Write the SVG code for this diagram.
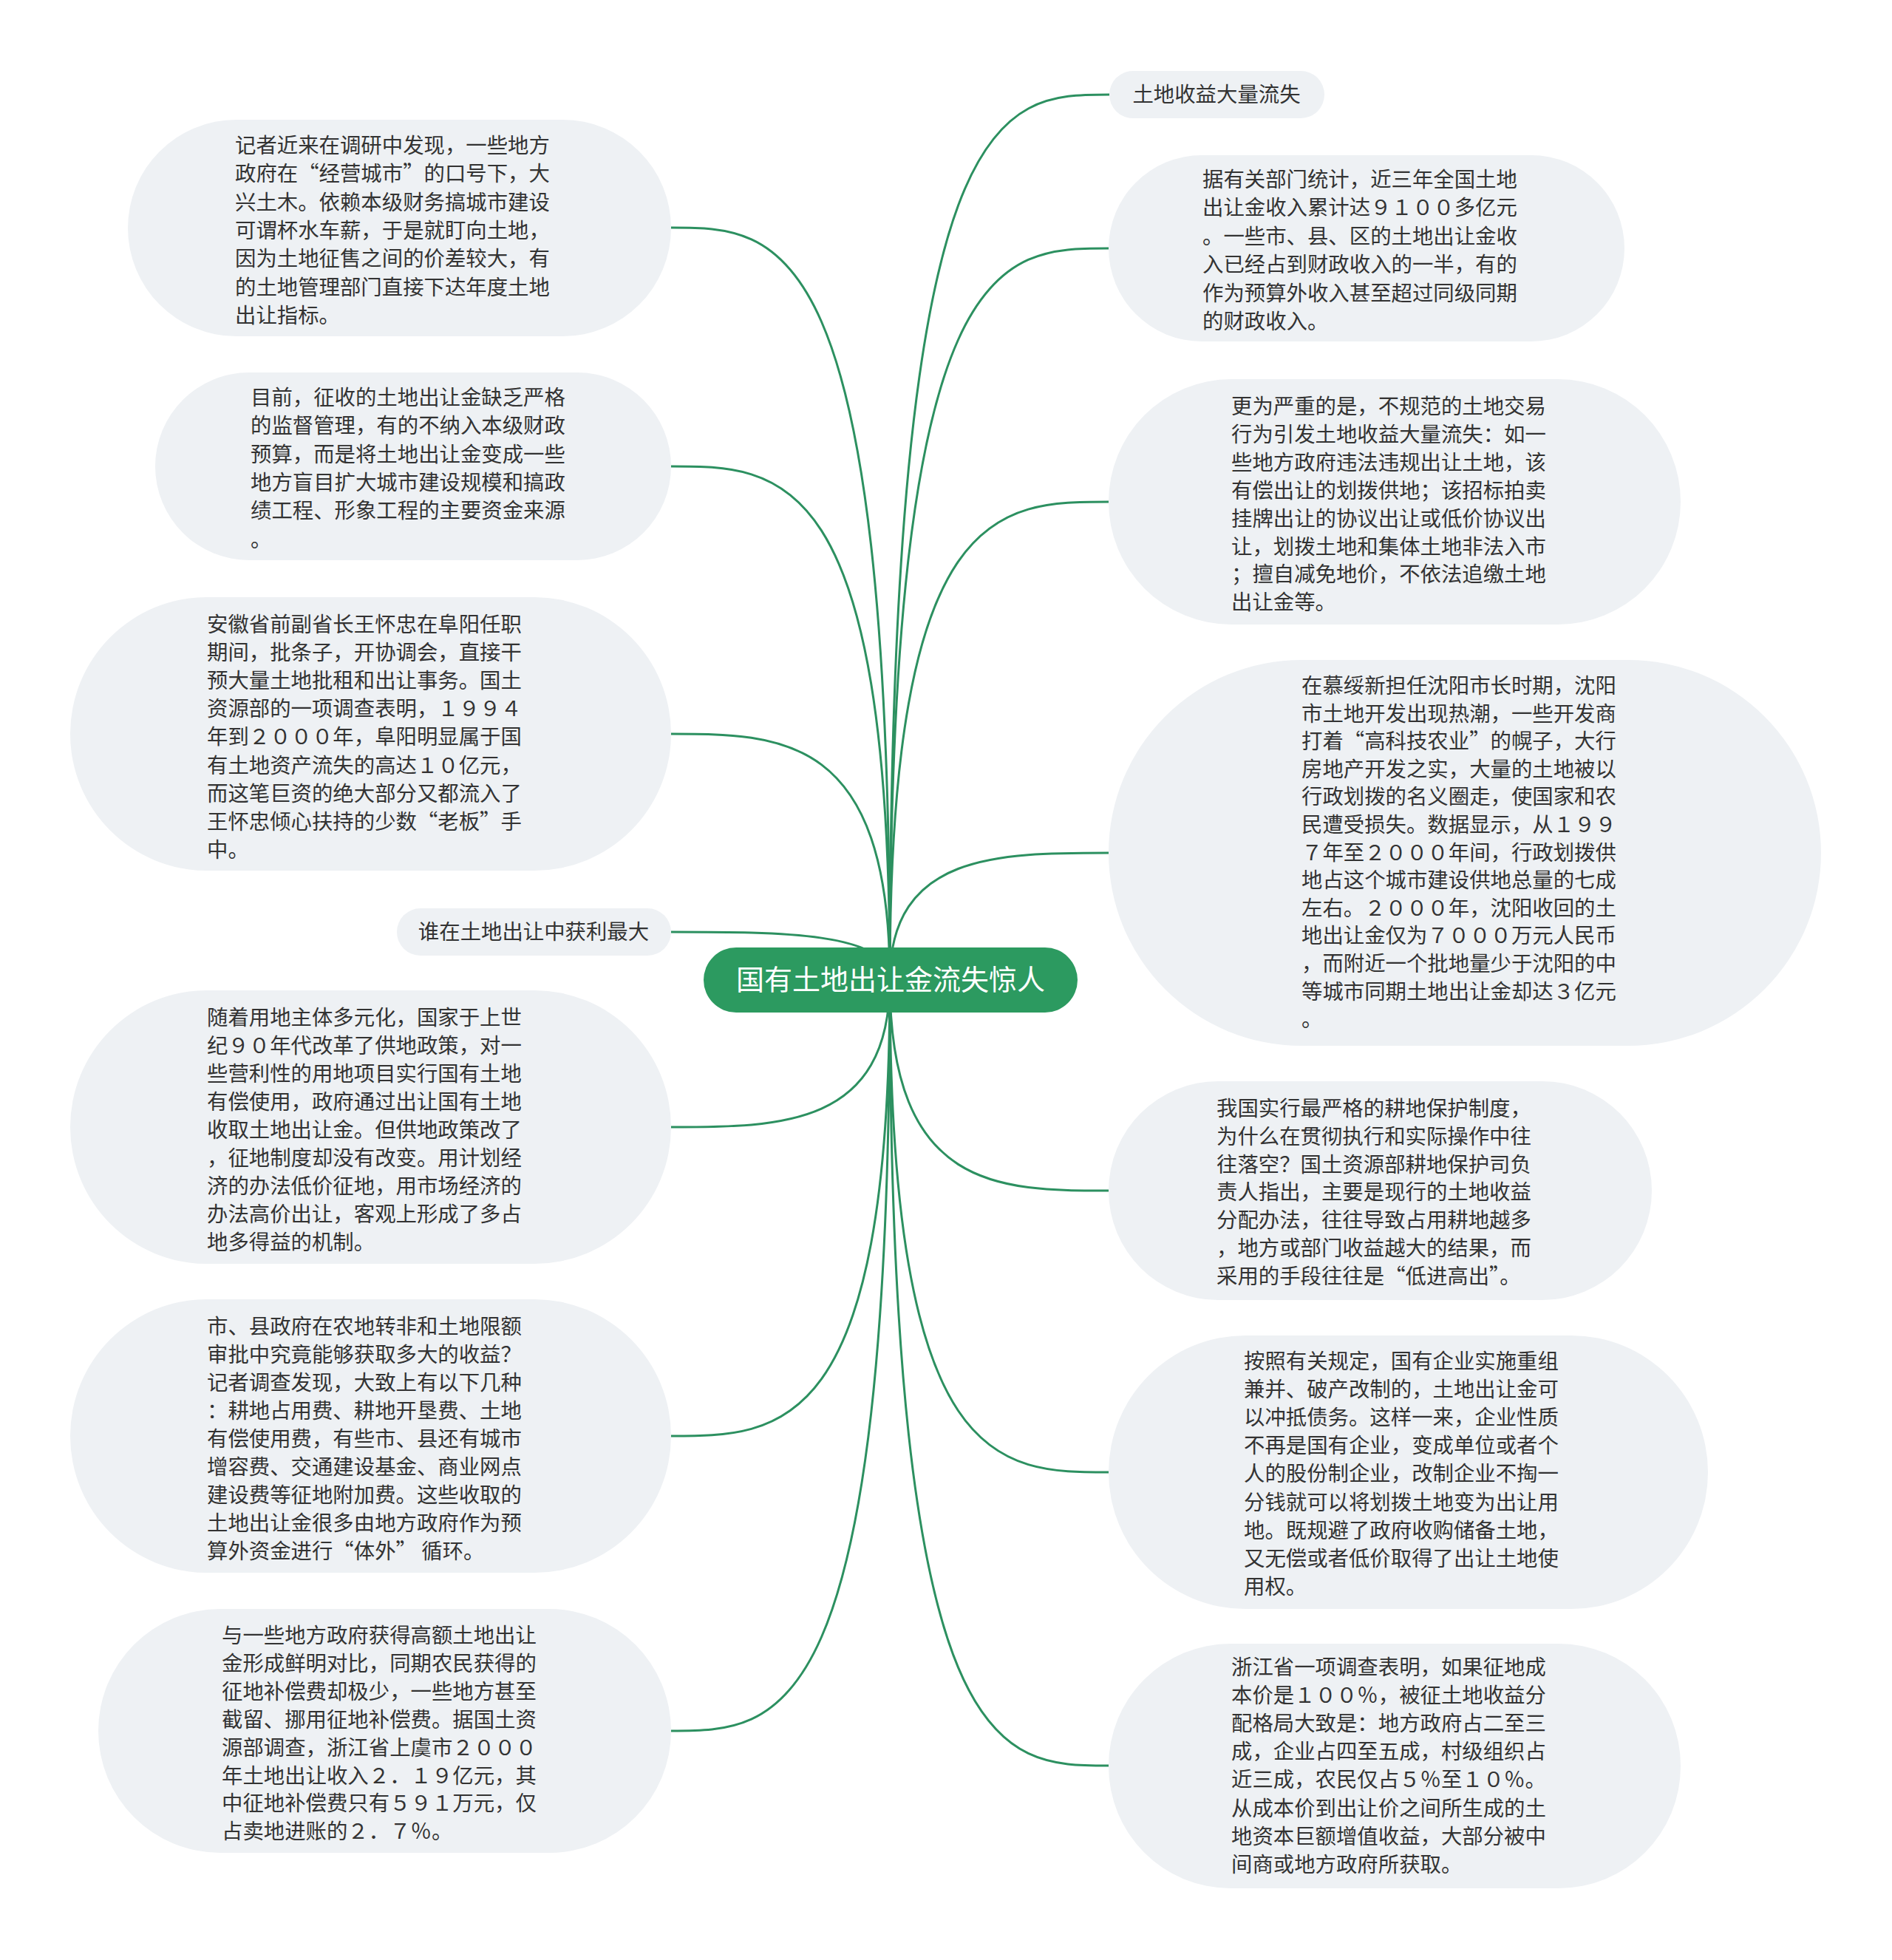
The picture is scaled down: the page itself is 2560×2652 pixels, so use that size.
<svg xmlns="http://www.w3.org/2000/svg" width="2560" height="2652" viewBox="0 0 2560 2652">
<style>
.bg{fill:#ffffff}
.pill{fill:#eef1f4}
.root{fill:#2c9a60}
.t{font-family:"Noto Sans CJK SC","Noto Sans",sans-serif;font-size:28.4px;fill:#333333}
.rt{font-family:"Noto Sans CJK SC","Noto Sans",sans-serif;font-size:38px;fill:#ffffff}
.c{fill:none;stroke:#2c9060;stroke-width:3}
</style>
<rect class="bg" x="0" y="0" width="2560" height="2652"/>
<g id="connectors">
<path class="c" d="M1204 1326 C1204 128 1352 128 1501 128"/>
<path class="c" d="M1204 1326 C1204 336 1352 336 1500 336"/>
<path class="c" d="M1204 1326 C1204 679 1352 679 1500 679"/>
<path class="c" d="M1204 1326 C1204 1154 1352 1154 1500 1154"/>
<path class="c" d="M1204 1326 C1204 1611 1352 1611 1500 1611"/>
<path class="c" d="M1204 1326 C1204 1992 1352 1992 1500 1992"/>
<path class="c" d="M1204 1326 C1204 2389 1352 2389 1500 2389"/>
<path class="c" d="M1204 1326 C1204 308 1056 308 908 308"/>
<path class="c" d="M1204 1326 C1204 631 1056 631 908 631"/>
<path class="c" d="M1204 1326 C1204 993 1056 993 908 993"/>
<path class="c" d="M1204 1326 C1204 1261 1056 1261 908 1261"/>
<path class="c" d="M1204 1326 C1204 1525 1056 1525 908 1525"/>
<path class="c" d="M1204 1326 C1204 1943 1056 1943 908 1943"/>
<path class="c" d="M1204 1326 C1204 2342 1056 2342 908 2342"/>
</g>
<g id="root">
<rect class="root" x="952" y="1282" width="506" height="88" rx="44"/>
<text class="rt" x="1205" y="1339" text-anchor="middle">国有土地出让金流失惊人</text>
</g>
<g id="L1">
<rect class="pill" x="173" y="162" width="735" height="293" rx="146.5"/>
<text class="t" x="318" y="207"><tspan x="318" dy="0">记者近来在调研中发现，一些地方</tspan><tspan x="318" dy="38.3">政府在“经营城市”的口号下，大</tspan><tspan x="318" dy="38.3">兴土木。依赖本级财务搞城市建设</tspan><tspan x="318" dy="38.3">可谓杯水车薪，于是就盯向土地，</tspan><tspan x="318" dy="38.3">因为土地征售之间的价差较大，有</tspan><tspan x="318" dy="38.3">的土地管理部门直接下达年度土地</tspan><tspan x="318" dy="38.3">出让指标。</tspan></text>
</g>
<g id="L2">
<rect class="pill" x="210" y="504" width="698" height="254" rx="127"/>
<text class="t" x="339" y="548"><tspan x="339" dy="0">目前，征收的土地出让金缺乏严格</tspan><tspan x="339" dy="38.3">的监督管理，有的不纳入本级财政</tspan><tspan x="339" dy="38.3">预算，而是将土地出让金变成一些</tspan><tspan x="339" dy="38.3">地方盲目扩大城市建设规模和搞政</tspan><tspan x="339" dy="38.3">绩工程、形象工程的主要资金来源</tspan><tspan x="339" dy="38.3">。</tspan></text>
</g>
<g id="L3">
<rect class="pill" x="95" y="808" width="813" height="370" rx="185"/>
<text class="t" x="280" y="855"><tspan x="280" dy="0">安徽省前副省长王怀忠在阜阳任职</tspan><tspan x="280" dy="38.1">期间，批条子，开协调会，直接干</tspan><tspan x="280" dy="38.1">预大量土地批租和出让事务。国土</tspan><tspan x="280" dy="38.1">资源部的一项调查表明，１９９４</tspan><tspan x="280" dy="38.1">年到２０００年，阜阳明显属于国</tspan><tspan x="280" dy="38.1">有土地资产流失的高达１０亿元，</tspan><tspan x="280" dy="38.1">而这笔巨资的绝大部分又都流入了</tspan><tspan x="280" dy="38.1">王怀忠倾心扶持的少数“老板”手</tspan><tspan x="280" dy="38.1">中。</tspan></text>
</g>
<g id="L4">
<rect class="pill" x="537" y="1229" width="371" height="64" rx="32"/>
<text class="t" x="722" y="1271" text-anchor="middle">谁在土地出让中获利最大</text>
</g>
<g id="L5">
<rect class="pill" x="95" y="1340" width="813" height="370" rx="185"/>
<text class="t" x="280" y="1387"><tspan x="280" dy="0">随着用地主体多元化，国家于上世</tspan><tspan x="280" dy="38">纪９０年代改革了供地政策，对一</tspan><tspan x="280" dy="38">些营利性的用地项目实行国有土地</tspan><tspan x="280" dy="38">有偿使用，政府通过出让国有土地</tspan><tspan x="280" dy="38">收取土地出让金。但供地政策改了</tspan><tspan x="280" dy="38">，征地制度却没有改变。用计划经</tspan><tspan x="280" dy="38">济的办法低价征地，用市场经济的</tspan><tspan x="280" dy="38">办法高价出让，客观上形成了多占</tspan><tspan x="280" dy="38">地多得益的机制。</tspan></text>
</g>
<g id="L6">
<rect class="pill" x="95" y="1758" width="813" height="370" rx="185"/>
<text class="t" x="280" y="1805"><tspan x="280" dy="0">市、县政府在农地转非和土地限额</tspan><tspan x="280" dy="38">审批中究竟能够获取多大的收益？</tspan><tspan x="280" dy="38">记者调查发现，大致上有以下几种</tspan><tspan x="280" dy="38">：耕地占用费、耕地开垦费、土地</tspan><tspan x="280" dy="38">有偿使用费，有些市、县还有城市</tspan><tspan x="280" dy="38">增容费、交通建设基金、商业网点</tspan><tspan x="280" dy="38">建设费等征地附加费。这些收取的</tspan><tspan x="280" dy="38">土地出让金很多由地方政府作为预</tspan><tspan x="280" dy="38">算外资金进行“体外” 循环。</tspan></text>
</g>
<g id="L7">
<rect class="pill" x="133" y="2177" width="775" height="330" rx="165"/>
<text class="t" x="300" y="2223"><tspan x="300" dy="0">与一些地方政府获得高额土地出让</tspan><tspan x="300" dy="37.9">金形成鲜明对比，同期农民获得的</tspan><tspan x="300" dy="37.9">征地补偿费却极少，一些地方甚至</tspan><tspan x="300" dy="37.9">截留、挪用征地补偿费。据国土资</tspan><tspan x="300" dy="37.9">源部调查，浙江省上虞市２０００</tspan><tspan x="300" dy="37.9">年土地出让收入２．１９亿元，其</tspan><tspan x="300" dy="37.9">中征地补偿费只有５９１万元，仅</tspan><tspan x="300" dy="37.9">占卖地进账的２．７％。</tspan></text>
</g>
<g id="R1">
<rect class="pill" x="1501" y="96" width="291" height="64" rx="32"/>
<text class="t" x="1646" y="138" text-anchor="middle">土地收益大量流失</text>
</g>
<g id="R2">
<rect class="pill" x="1500" y="210" width="698" height="252" rx="126"/>
<text class="t" x="1627" y="253"><tspan x="1627" dy="0">据有关部门统计，近三年全国土地</tspan><tspan x="1627" dy="38.4">出让金收入累计达９１００多亿元</tspan><tspan x="1627" dy="38.4">。一些市、县、区的土地出让金收</tspan><tspan x="1627" dy="38.4">入已经占到财政收入的一半，有的</tspan><tspan x="1627" dy="38.4">作为预算外收入甚至超过同级同期</tspan><tspan x="1627" dy="38.4">的财政收入。</tspan></text>
</g>
<g id="R3">
<rect class="pill" x="1500" y="513" width="774" height="332" rx="166"/>
<text class="t" x="1666" y="560"><tspan x="1666" dy="0">更为严重的是，不规范的土地交易</tspan><tspan x="1666" dy="37.9">行为引发土地收益大量流失：如一</tspan><tspan x="1666" dy="37.9">些地方政府违法违规出让土地，该</tspan><tspan x="1666" dy="37.9">有偿出让的划拨供地；该招标拍卖</tspan><tspan x="1666" dy="37.9">挂牌出让的协议出让或低价协议出</tspan><tspan x="1666" dy="37.9">让，划拨土地和集体土地非法入市</tspan><tspan x="1666" dy="37.9">；擅自减免地价，不依法追缴土地</tspan><tspan x="1666" dy="37.9">出让金等。</tspan></text>
</g>
<g id="R4">
<rect class="pill" x="1500" y="893" width="964" height="522" rx="261"/>
<text class="t" x="1761" y="938"><tspan x="1761" dy="0">在慕绥新担任沈阳市长时期，沈阳</tspan><tspan x="1761" dy="37.6">市土地开发出现热潮，一些开发商</tspan><tspan x="1761" dy="37.6">打着“高科技农业”的幌子，大行</tspan><tspan x="1761" dy="37.6">房地产开发之实，大量的土地被以</tspan><tspan x="1761" dy="37.6">行政划拨的名义圈走，使国家和农</tspan><tspan x="1761" dy="37.6">民遭受损失。数据显示，从１９９</tspan><tspan x="1761" dy="37.6">７年至２０００年间，行政划拨供</tspan><tspan x="1761" dy="37.6">地占这个城市建设供地总量的七成</tspan><tspan x="1761" dy="37.6">左右。２０００年，沈阳收回的土</tspan><tspan x="1761" dy="37.6">地出让金仅为７０００万元人民币</tspan><tspan x="1761" dy="37.6">，而附近一个批地量少于沈阳的中</tspan><tspan x="1761" dy="37.6">等城市同期土地出让金却达３亿元</tspan><tspan x="1761" dy="37.6">。</tspan></text>
</g>
<g id="R5">
<rect class="pill" x="1500" y="1463" width="735" height="296" rx="148"/>
<text class="t" x="1646" y="1510"><tspan x="1646" dy="0">我国实行最严格的耕地保护制度，</tspan><tspan x="1646" dy="37.8">为什么在贯彻执行和实际操作中往</tspan><tspan x="1646" dy="37.8">往落空？国土资源部耕地保护司负</tspan><tspan x="1646" dy="37.8">责人指出，主要是现行的土地收益</tspan><tspan x="1646" dy="37.8">分配办法，往往导致占用耕地越多</tspan><tspan x="1646" dy="37.8">，地方或部门收益越大的结果，而</tspan><tspan x="1646" dy="37.8">采用的手段往往是“低进高出”。</tspan></text>
</g>
<g id="R6">
<rect class="pill" x="1500" y="1807" width="811" height="370" rx="185"/>
<text class="t" x="1683" y="1852"><tspan x="1683" dy="0">按照有关规定，国有企业实施重组</tspan><tspan x="1683" dy="38.1">兼并、破产改制的，土地出让金可</tspan><tspan x="1683" dy="38.1">以冲抵债务。这样一来，企业性质</tspan><tspan x="1683" dy="38.1">不再是国有企业，变成单位或者个</tspan><tspan x="1683" dy="38.1">人的股份制企业，改制企业不掏一</tspan><tspan x="1683" dy="38.1">分钱就可以将划拨土地变为出让用</tspan><tspan x="1683" dy="38.1">地。既规避了政府收购储备土地，</tspan><tspan x="1683" dy="38.1">又无偿或者低价取得了出让土地使</tspan><tspan x="1683" dy="38.1">用权。</tspan></text>
</g>
<g id="R7">
<rect class="pill" x="1500" y="2224" width="774" height="331" rx="165"/>
<text class="t" x="1666" y="2266"><tspan x="1666" dy="0">浙江省一项调查表明，如果征地成</tspan><tspan x="1666" dy="38.1">本价是１００％，被征土地收益分</tspan><tspan x="1666" dy="38.1">配格局大致是：地方政府占二至三</tspan><tspan x="1666" dy="38.1">成，企业占四至五成，村级组织占</tspan><tspan x="1666" dy="38.1">近三成，农民仅占５％至１０％。</tspan><tspan x="1666" dy="38.1">从成本价到出让价之间所生成的土</tspan><tspan x="1666" dy="38.1">地资本巨额增值收益，大部分被中</tspan><tspan x="1666" dy="38.1">间商或地方政府所获取。</tspan></text>
</g>
</svg>
